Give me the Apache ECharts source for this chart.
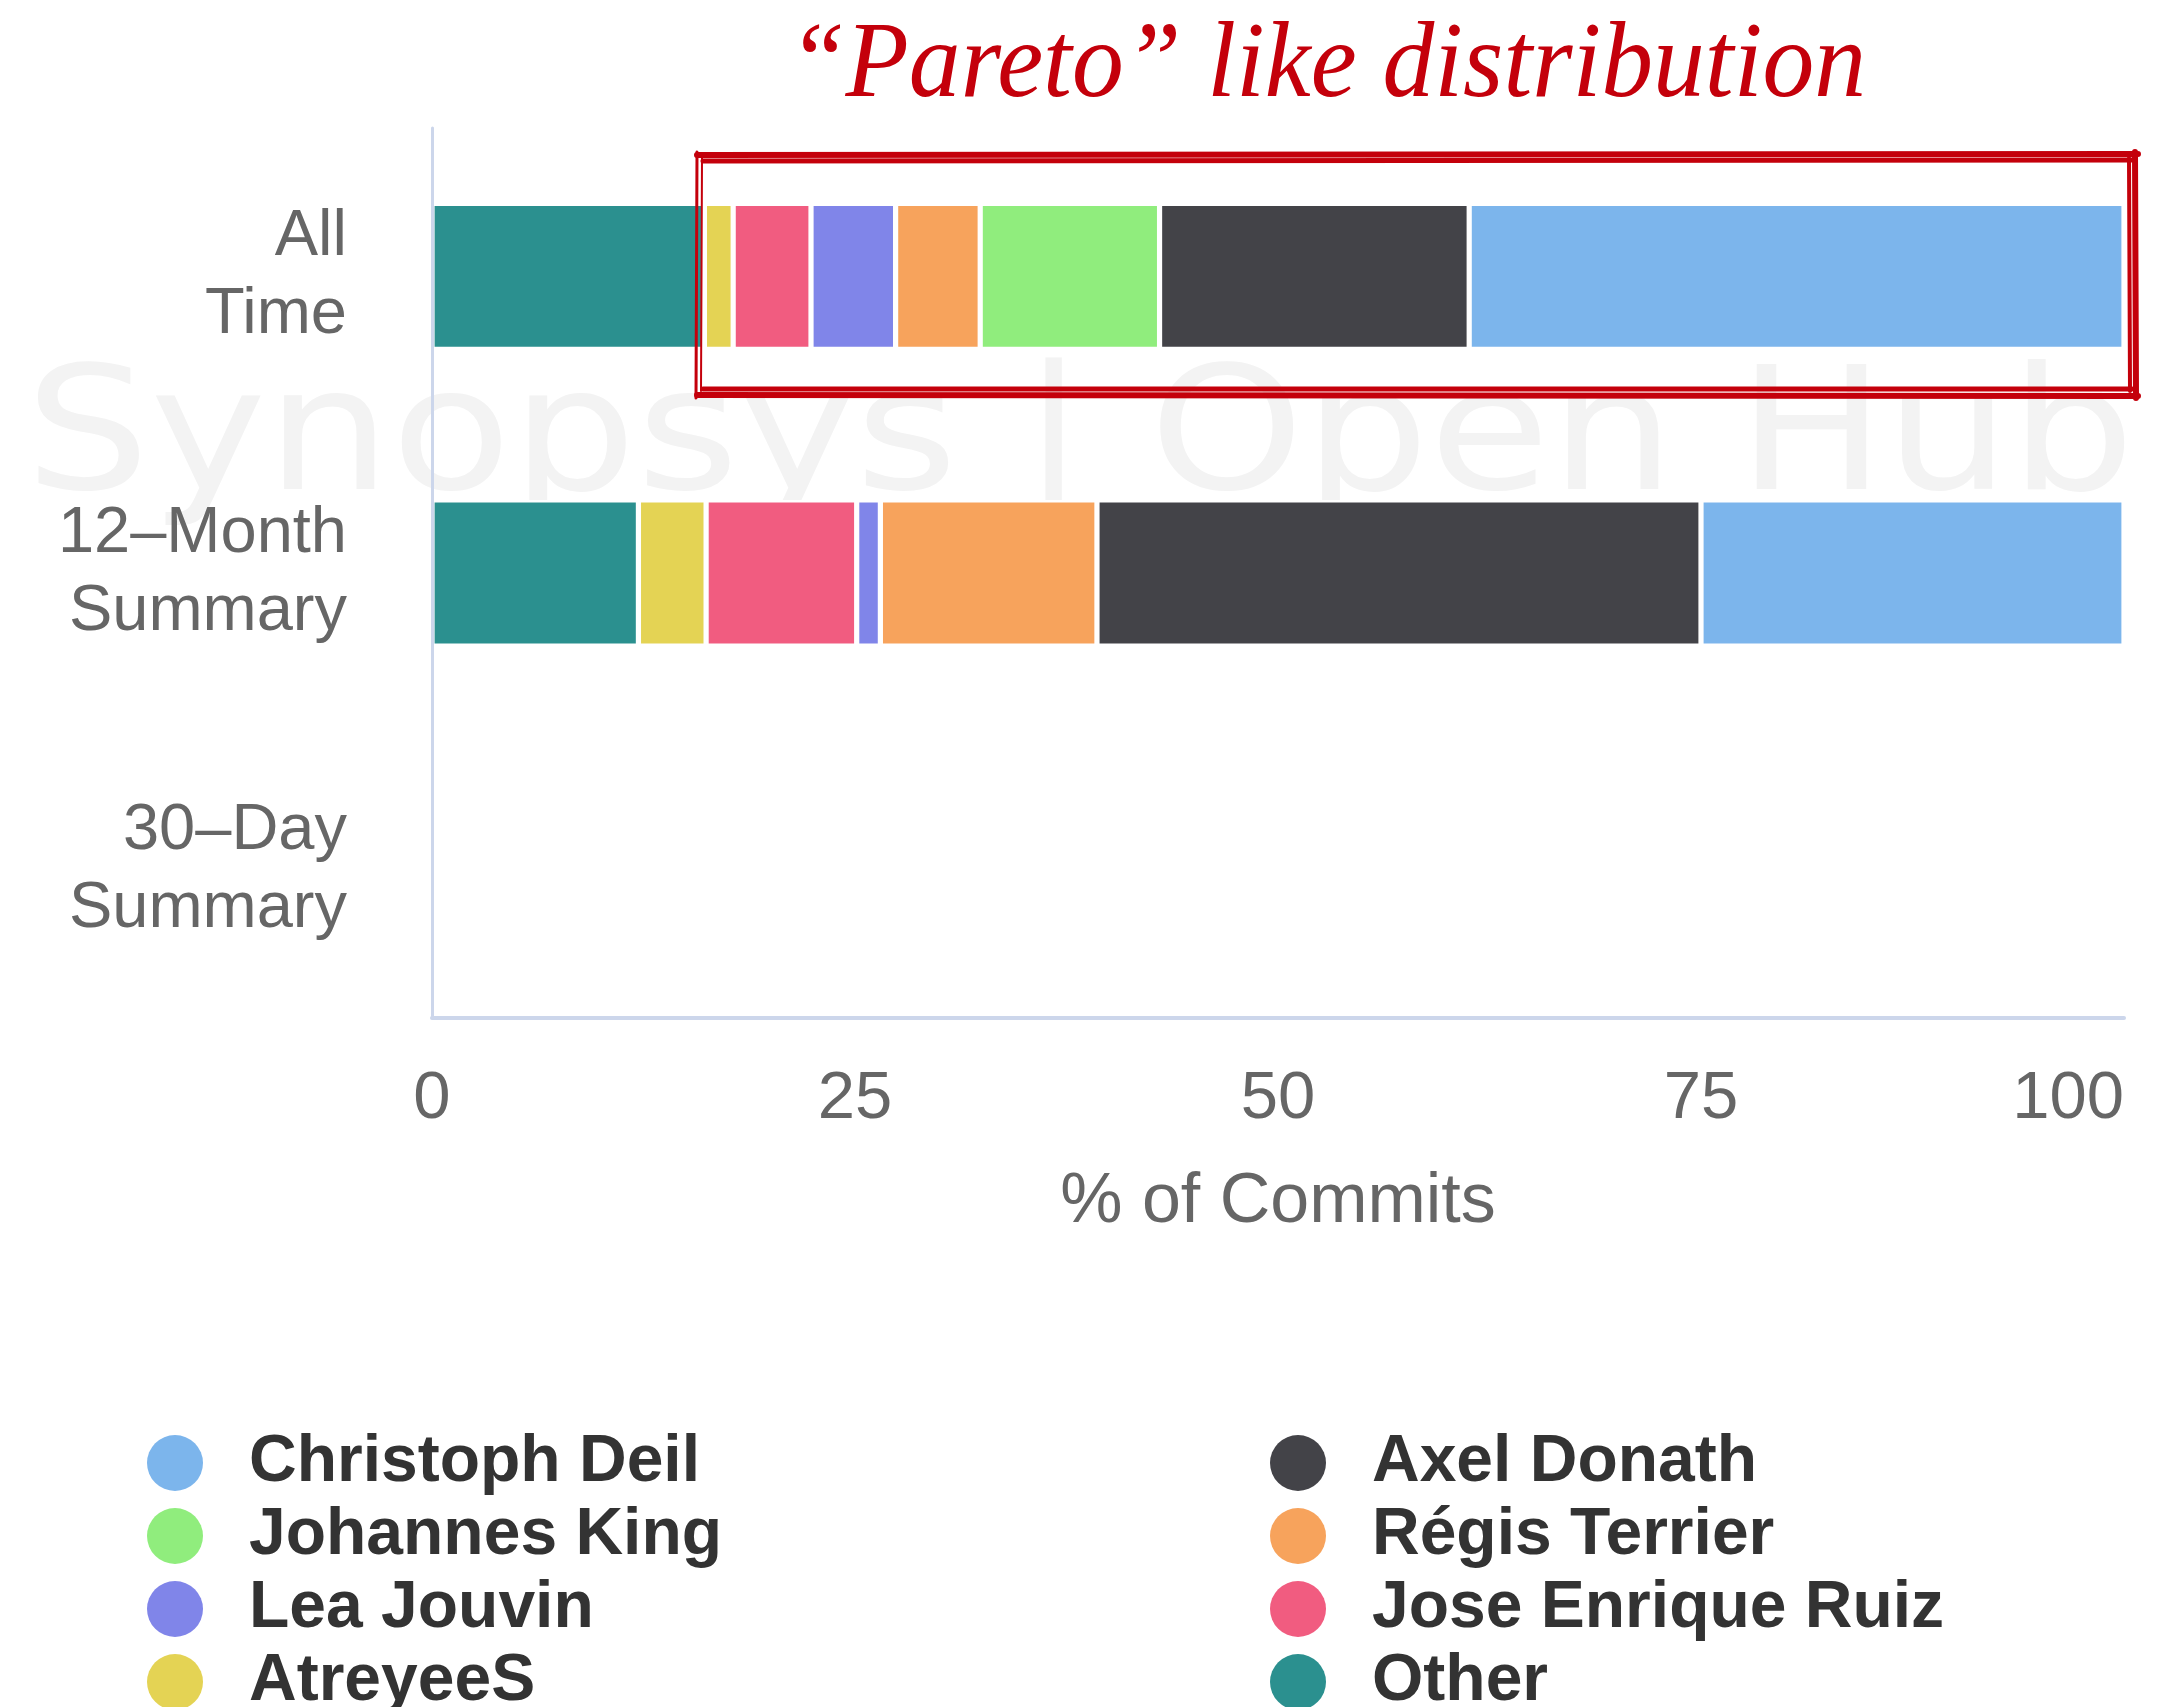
<!DOCTYPE html>
<html>
<head>
<meta charset="utf-8">
<script src="https://cdn.jsdelivr.net/npm/echarts@6/dist/echarts.min.js"></script>
<style>
  html, body { margin: 0; padding: 0; background: #ffffff; }
  #chart { width: 2166px; height: 1707px; }
</style>
</head>
<body>
<div id="chart"></div>
<script>
// Share of commits per contributor, by period (percent)
const categories = ['All Time', '12–Month Summary', '30–Day Summary'];

const other           = [16.1, 12.2, null];
const atreyeeS        = [1.7,  4.0,  null];
const joseEnriqueRuiz = [4.6,  8.9,  null];
const leaJouvin       = [5.0,  1.4,  null];
const regisTerrier    = [5.0,  12.8, null];
const johannesKing    = [10.6, 0,    null];
const axelDonath      = [18.3, 35.7, null];
const christophDeil   = [38.7, 25.0, null];

const xTickValues = [0, 25, 50, 75, 100];

// legend: two columns, read row by row
const legendColumns = [
  ['Christoph Deil', 'Johannes King', 'Lea Jouvin', 'AtreyeeS'],
  ['Axel Donath', 'Régis Terrier', 'Jose Enrique Ruiz', 'Other']
];

const titleText = '“Pareto” like distribution';
const watermarkText = 'Synopsys | Open Hub';

// stacking order: first entry sits at the left of each bar
const stackOrder = [
  { name: 'Other',             values: other,           color: '#2b908f' },
  { name: 'AtreyeeS',          values: atreyeeS,        color: '#e4d354' },
  { name: 'Jose Enrique Ruiz', values: joseEnriqueRuiz, color: '#f15c80' },
  { name: 'Lea Jouvin',        values: leaJouvin,       color: '#8085e9' },
  { name: 'Régis Terrier',     values: regisTerrier,    color: '#f7a35c' },
  { name: 'Johannes King',     values: johannesKing,    color: '#90ed7d' },
  { name: 'Axel Donath',       values: axelDonath,      color: '#434348' },
  { name: 'Christoph Deil',    values: christophDeil,   color: '#7cb5ec' }
];

const SANS = '"Liberation Sans", Arial, sans-serif';
const RED = '#c4000b';

// stretch a text horizontally so it spans a given width
function widthScale(text, font, target) {
  const ctx = document.createElement('canvas').getContext('2d');
  ctx.font = font;
  const w = ctx.measureText(text).width;
  return w > 0 ? target / w : 1;
}

const titleFont = 'italic 107px "Liberation Serif", "Times New Roman", serif';
const wmFont = '171px "DejaVu Sans", sans-serif';

// one legend block per entry, placed on a two-column grid
const legendColX = [147, 1270];
const legendRowY0 = 1458, legendRowStep = 73;
const legends = [];
legendColumns.forEach((col, c) => {
  col.forEach((name, r) => {
    legends.push({
      data: [name],
      left: legendColX[c],
      top: legendRowY0 + r * legendRowStep - 28,
      orient: 'horizontal',
      icon: 'circle',
      itemWidth: 56,
      itemHeight: 56,
      padding: 0,
      itemStyle: { borderWidth: 0 },
      textStyle: {
        fontFamily: SANS,
        fontSize: 66,
        fontWeight: 'bold',
        color: '#333333',
        padding: [0, 0, 0, 41]
      }
    });
  });
});

// hand-drawn style frame around the tail of the first bar
function stroke(points, width) {
  return {
    type: 'polyline', z: 100, silent: true,
    shape: { points: points },
    style: { fill: null, stroke: RED, lineWidth: width, lineCap: 'round' }
  };
}
const frame = [
  stroke([[697, 155], [2138, 154]], 6),
  stroke([[703, 161], [2132, 160]], 5),
  stroke([[2135, 152], [2136, 398]], 6),
  stroke([[2129, 158], [2130, 391]], 4),
  stroke([[697, 395], [2138, 396]], 6),
  stroke([[703, 389], [2132, 389]], 5),
  stroke([[697, 152], [696, 398]], 3),
  stroke([[702, 158], [701, 391]], 2)
];

const chart = echarts.init(document.getElementById('chart'), null, { renderer: 'canvas' });

chart.setOption({
  animation: false,
  backgroundColor: '#ffffff',
  grid: { left: 432, right: 42, top: 128, bottom: 689, containLabel: false },
  xAxis: {
    type: 'value',
    min: xTickValues[0],
    max: xTickValues[xTickValues.length - 1],
    interval: xTickValues[1] - xTickValues[0],
    splitLine: { show: false },
    axisTick: { show: false },
    axisLine: { show: true, lineStyle: { color: '#ccd6eb', width: 4 } },
    axisLabel: {
      fontFamily: SANS, fontSize: 67, color: '#666666',
      margin: 48, alignMaxLabel: 'right'
    },
    name: '% of Commits',
    nameLocation: 'middle',
    nameGap: 150,
    nameTextStyle: { fontFamily: SANS, fontSize: 70, color: '#666666' }
  },
  yAxis: {
    type: 'category',
    data: categories,
    inverse: true,
    z: 5,
    axisTick: { show: false },
    axisLine: { show: true, lineStyle: { color: '#ccd6eb', width: 3 } },
    axisLabel: {
      formatter: v => v.replace(' ', '\n'),
      fontFamily: SANS, fontSize: 65, color: '#666666',
      lineHeight: 78, margin: 85, align: 'right'
    }
  },
  legend: legends,
  series: stackOrder.map(s => ({
    name: s.name,
    type: 'bar',
    stack: 'commits',
    barWidth: 146,
    data: s.values,
    itemStyle: { color: s.color, borderColor: '#ffffff', borderWidth: 2.6 },
    emphasis: { disabled: true }
  })),
  graphic: [
    {
      type: 'text',
      z: 0,
      x: 25,
      y: 445,
      scaleX: widthScale(watermarkText, wmFont, 2110),
      silent: true,
      style: {
        text: watermarkText,
        font: wmFont,
        fill: '#f3f3f3',
        align: 'left',
        verticalAlign: 'middle'
      }
    },
    {
      type: 'text',
      z: 100,
      x: 788,
      y: 68,
      scaleX: widthScale(titleText, titleFont, 1078),
      style: {
        text: titleText,
        font: titleFont,
        fill: RED,
        align: 'left',
        verticalAlign: 'middle'
      }
    }
  ].concat(frame)
});
</script>
</body>
</html>
